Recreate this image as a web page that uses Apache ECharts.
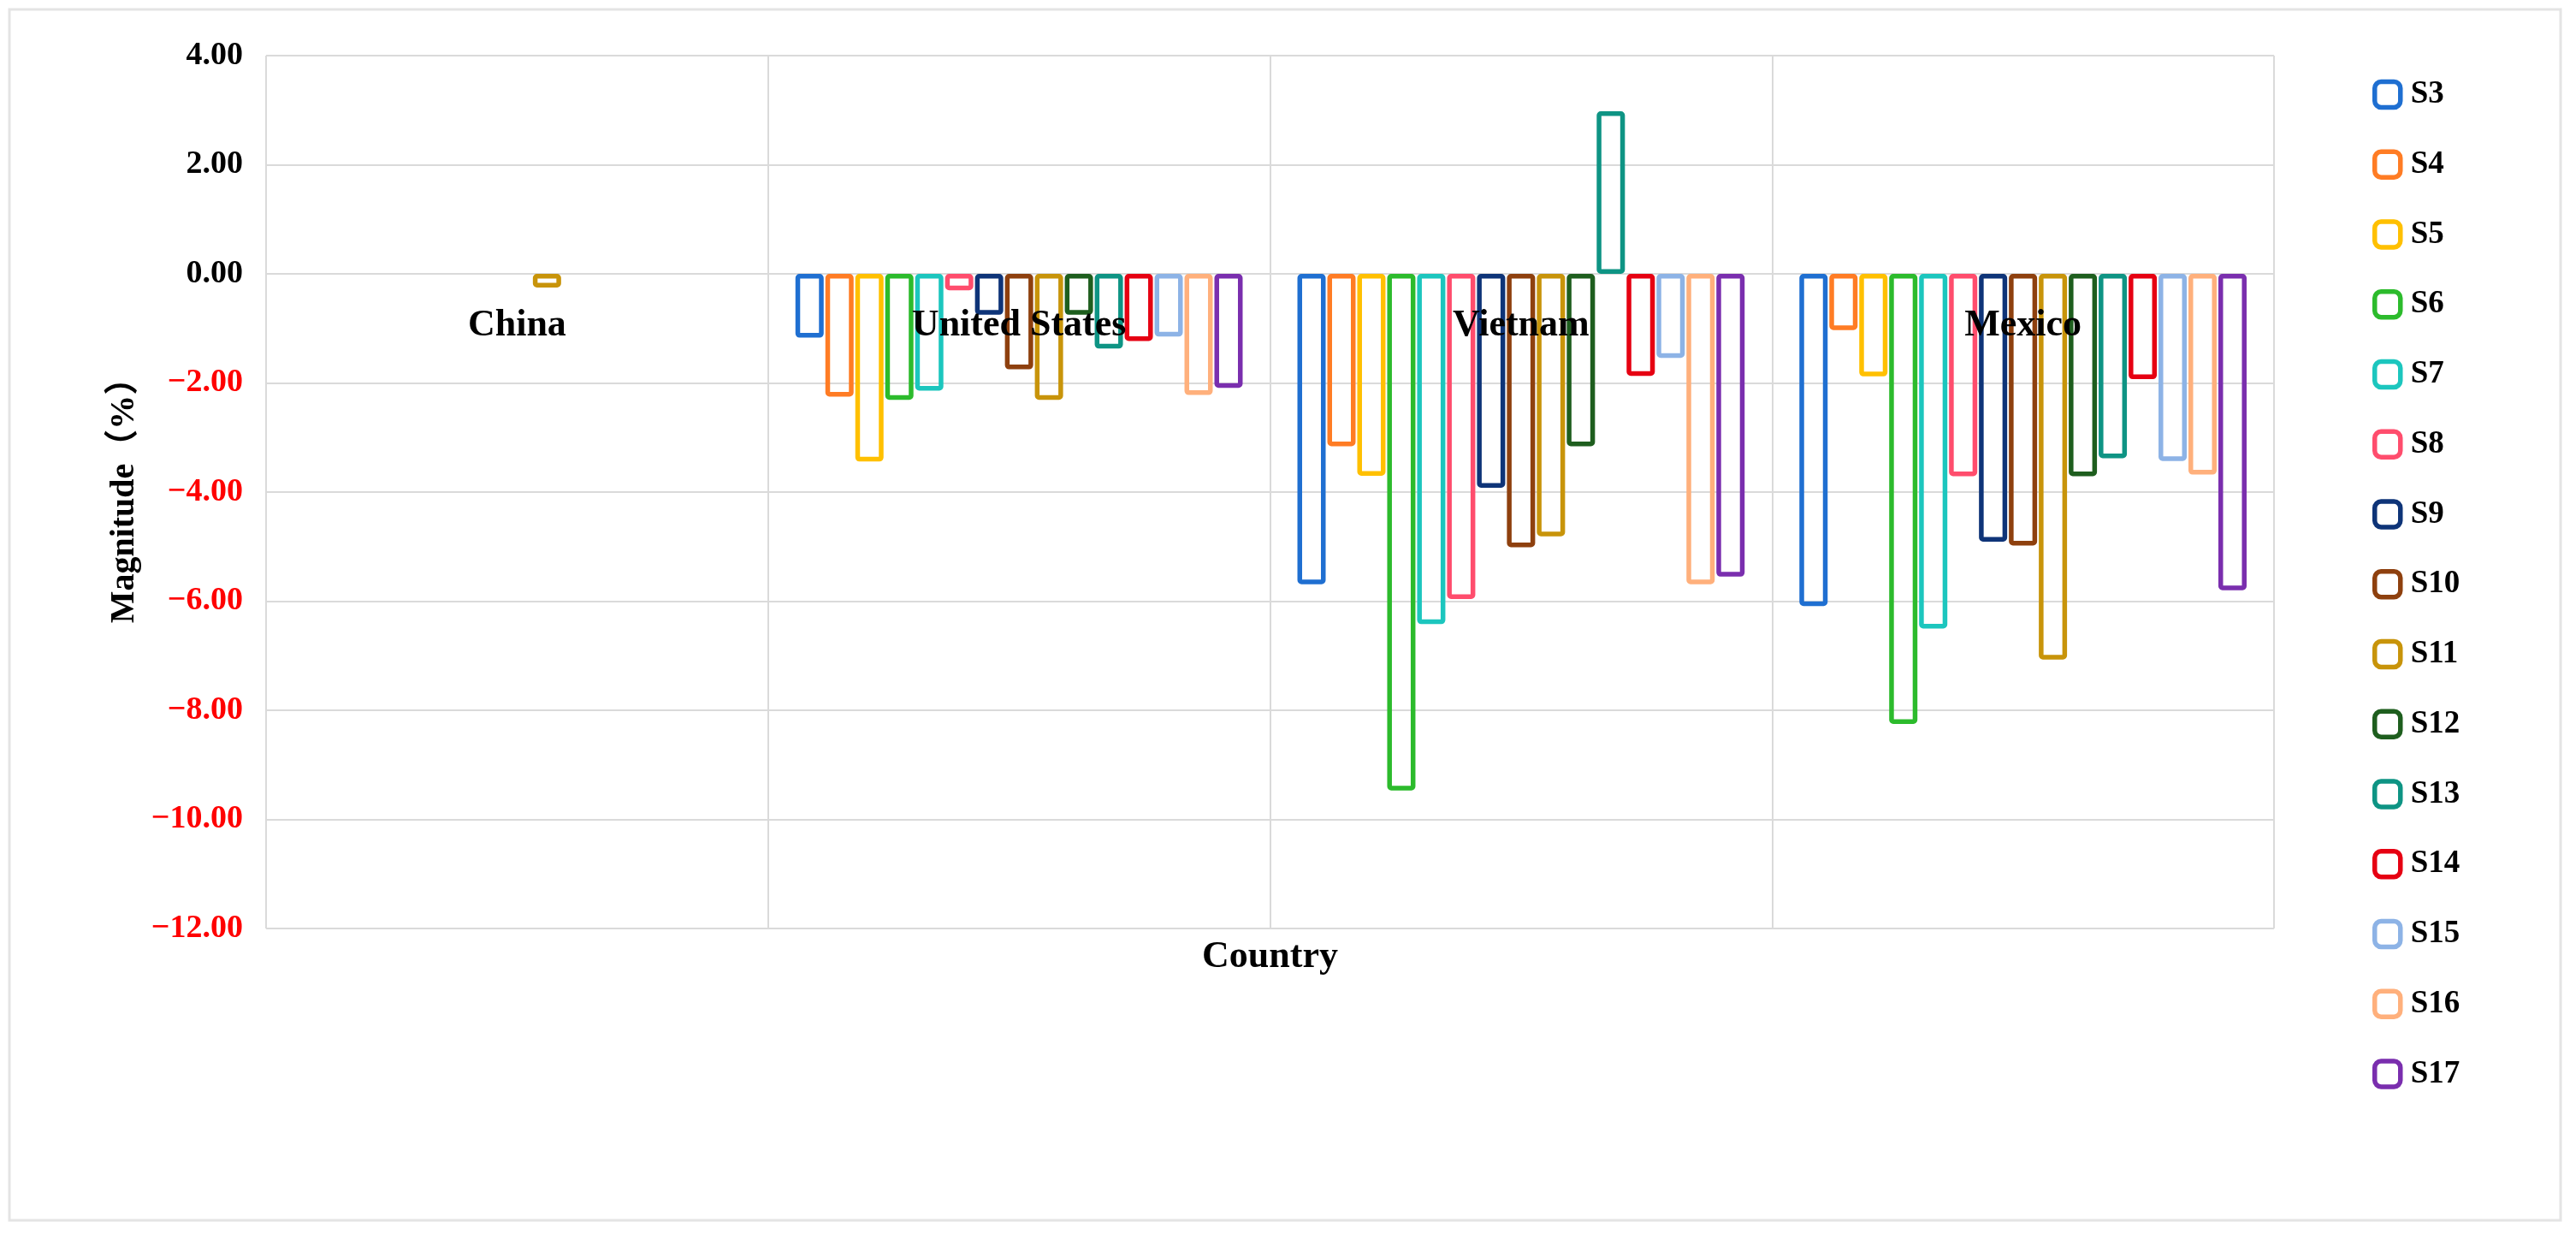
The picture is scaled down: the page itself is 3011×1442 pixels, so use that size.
<!DOCTYPE html>
<html>
<head>
<meta charset="utf-8">
<title>Magnitude by country</title>
<script src="https://cdn.jsdelivr.net/npm/echarts@6/dist/echarts.min.js"></script>
<style>
  html, body { margin: 0; padding: 0; background: #fff; }
  #chart { width: 3011px; height: 1442px; }
</style>
</head>
<body>
<div id="chart"></div>
<script>
// categories and series
const countries = ['China', 'United States', 'Vietnam', 'Mexico'];
const seriesNames = ['S3', 'S4', 'S5', 'S6', 'S7', 'S8', 'S9', 'S10', 'S11', 'S12', 'S13', 'S14', 'S15', 'S16', 'S17'];

// values per country, one per series (S3..S17)
const china        = [null, null, null, null, null, null, null, null, -0.25, null, null, null, null, null, null];
const unitedStates = [-1.17, -2.25, -3.44, -2.31, -2.14, -0.30, -0.75, -1.75, -2.31, -0.75, -1.37, -1.23, -1.15, -2.22, -2.09];
const vietnam      = [-5.69, -3.16, -3.70, -9.47, -6.42, -5.96, -3.92, -5.01, -4.81, -3.16, 2.98, -1.87, -1.54, -5.69, -5.55];
const mexico       = [-6.09, -1.03, -1.88, -8.25, -6.50, -3.71, -4.91, -4.98, -7.07, -3.71, -3.38, -1.93, -3.43, -3.68, -5.80];

// y axis ticks
const yTicks = [4, 2, 0, -2, -4, -6, -8, -10, -12];

const colors = ['#1F6FD1', '#FF7C24', '#FFC000', '#2CBB2C', '#1CC6BE', '#FF4D6D', '#0E3478', '#8E400E',
                '#C8940A', '#1E5E1E', '#0E9484', '#E60012', '#8DB3E6', '#FFB07C', '#7A2EAE'];

const serif = "'Times New Roman', 'Liberation Serif', 'Noto Sans CJK SC', serif";
const gridColor = '#dadada';

const chart = echarts.init(document.getElementById('chart'));

const series = seriesNames.map((name, i) => ({
    name: name,
    type: 'bar',
    xAxisIndex: 0,
    barWidth: 33,
    barGap: '6%',
    itemStyle: {
        color: 'rgba(255,255,255,0)',
        borderColor: colors[i],
        borderWidth: 5.5,
        borderRadius: 2
    },
    data: [china[i], unitedStates[i], vietnam[i], mexico[i]]
}));

chart.setOption({
    animation: false,
    backgroundColor: '#fff',
    graphic: [{
        type: 'rect',
        silent: true,
        shape: { x: 11, y: 11, width: 2982, height: 1415 },
        style: { fill: 'none', stroke: '#e4e4e4', lineWidth: 3 }
    }],
    legend: {
        orient: 'vertical',
        left: 2768,
        top: 87,
        itemWidth: 30,
        itemHeight: 30,
        itemGap: 44.75,
        data: seriesNames,
        itemStyle: { borderWidth: 5.5 },
        textStyle: {
            fontFamily: serif,
            fontWeight: 'bold',
            fontSize: 37,
            color: '#000',
            lineHeight: 30,
            padding: [0, 0, 0, 7]
        }
    },
    grid: {
        left: 311,
        right: 353,
        top: 65,
        bottom: 357,
        containLabel: false
    },
    xAxis: [{
        type: 'category',
        data: countries,
        z: 5,
        axisLine: { show: false, onZero: false },
        axisTick: { show: false },
        axisLabel: {
            margin: 39,
            fontFamily: serif,
            fontWeight: 'bold',
            fontSize: 44,
            color: '#000'
        },
        splitLine: { show: true, lineStyle: { color: gridColor, width: 2 } }
    }, {
        type: 'category',
        data: countries,
        position: 'bottom',
        axisLine: { show: false, onZero: false },
        axisTick: { show: false },
        axisLabel: { show: false },
        splitLine: { show: false },
        name: 'Country',
        nameLocation: 'middle',
        nameGap: 12,
        nameTextStyle: {
            fontFamily: serif,
            fontWeight: 'bold',
            fontSize: 44,
            color: '#000'
        }
    }],
    yAxis: {
        type: 'value',
        min: yTicks[yTicks.length - 1],
        max: yTicks[0],
        interval: yTicks[0] - yTicks[1],
        axisLine: { show: false },
        axisTick: { show: false },
        axisLabel: {
            margin: 27,
            fontFamily: serif,
            fontWeight: 'bold',
            fontSize: 38,
            formatter: v => v.toFixed(2).replace('-', '\u2212'),
            color: v => (v < 0 ? '#FF0000' : '#000')
        },
        splitLine: { show: true, lineStyle: { color: gridColor, width: 2 } },
        name: 'Magnitude（%）',
        nameLocation: 'middle',
        nameGap: 145,
        nameTextStyle: {
            fontFamily: serif,
            fontWeight: 'bold',
            fontSize: 40,
            color: '#000'
        }
    },
    series: series
});

// country labels sit just under the zero line, like the original
const zeroY = chart.convertToPixel({ yAxisIndex: 0 }, 0);
const bottomY = chart.convertToPixel({ yAxisIndex: 0 }, yTicks[yTicks.length - 1]);
chart.setOption({ xAxis: [{ offset: zeroY - bottomY }, {}] });
</script>
</body>
</html>
